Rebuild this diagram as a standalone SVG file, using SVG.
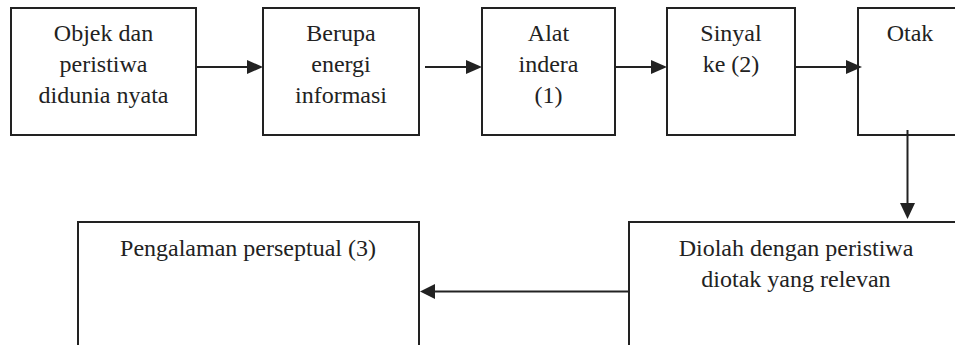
<svg xmlns="http://www.w3.org/2000/svg" width="955" height="345" viewBox="0 0 955 345">
<defs>
<style>
.box{fill:#fff;stroke:#222;stroke-width:2}
.t{font-family:"Liberation Serif","Times New Roman",serif;font-size:24px;fill:#222;text-anchor:middle}
.c{stroke:#222;stroke-width:2;fill:none}
.h{fill:#222;stroke:none}
</style>
</defs>
<rect width="955" height="345" fill="#fff"/>
<g id="n1"><rect class="box" x="11" y="8" width="185" height="127"/>
<text class="t" x="103.5" y="41">Objek dan</text><text class="t" x="103.5" y="72">peristiwa</text><text class="t" x="103.5" y="103">didunia nyata</text></g>
<g id="n2"><rect class="box" x="263" y="8" width="156" height="127"/>
<text class="t" x="341" y="41">Berupa</text><text class="t" x="341" y="72">energi</text><text class="t" x="341" y="103">informasi</text></g>
<g id="n3"><rect class="box" x="482" y="8" width="133" height="127"/>
<text class="t" x="548.5" y="41">Alat</text><text class="t" x="548.5" y="72">indera</text><text class="t" x="548.5" y="103">(1)</text></g>
<g id="n4"><rect class="box" x="667" y="8" width="128" height="127"/>
<text class="t" x="731" y="41">Sinyal</text><text class="t" x="731" y="72">ke (2)</text></g>
<g id="n5"><rect class="box" x="858" y="8" width="110" height="127"/>
<text class="t" x="910" y="41">Otak</text></g>
<g id="n6"><rect class="box" x="629" y="222" width="340" height="140"/>
<text class="t" x="796" y="256">Diolah dengan peristiwa</text><text class="t" x="796" y="287">diotak yang relevan</text></g>
<g id="n7"><rect class="box" x="78" y="222" width="341" height="140"/>
<text class="t" x="248" y="256">Pengalaman perseptual (3)</text></g>
<g id="connectors">
<line class="c" x1="196" y1="67" x2="248" y2="67"/><polygon class="h" points="263,67 247,60 247,74"/>
<line class="c" x1="425" y1="67" x2="467" y2="67"/><polygon class="h" points="482,67 466,60 466,74"/>
<line class="c" x1="615" y1="67" x2="652" y2="67"/><polygon class="h" points="667,67 651,60 651,74"/>
<line class="c" x1="795" y1="67" x2="847" y2="67"/><polygon class="h" points="862,67 846,60 846,74"/>
<line class="c" x1="907.5" y1="130" x2="907.5" y2="204"/><polygon class="h" points="907.5,219 900,203 915,203"/>
<line class="c" x1="629" y1="291.5" x2="434" y2="291.5"/><polygon class="h" points="420,291.5 435,284 435,299"/>
</g>
</svg>
